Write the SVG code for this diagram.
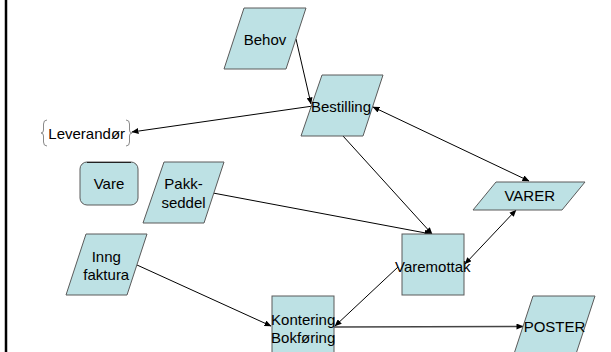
<svg xmlns="http://www.w3.org/2000/svg" width="611" height="352" viewBox="0 0 611 352">
  <style>
    .shape { fill: #BDE1E4; stroke: #5a5a5a; stroke-width: 1; }
    .lbl { font-family: "Liberation Sans", Arial, sans-serif; font-size: 15px; fill: #000; text-anchor: middle; }
    .conn { stroke: #000; stroke-width: 1; fill: none; }
    .brace { stroke: #8a8a8a; stroke-width: 1; fill: none; }
  </style>
  <defs>
    <marker id="ah" markerWidth="7" markerHeight="6" refX="6.5" refY="3" orient="auto-start-reverse" markerUnits="userSpaceOnUse">
      <path d="M0,0 L7,3 L0,6 Z" fill="#000"/>
    </marker>
  </defs>
  <rect width="611" height="352" fill="#fff"/>
  <line x1="6" y1="0" x2="6" y2="352" stroke="#000" stroke-width="2.5"/>

  <g id="connectors">
    <line class="conn" x1="296" y1="39" x2="311" y2="104" marker-end="url(#ah)"/>
    <line class="conn" x1="313" y1="106" x2="132" y2="132" marker-end="url(#ah)"/>
    <line class="conn" x1="373" y1="107" x2="529" y2="181" marker-start="url(#ah)" marker-end="url(#ah)"/>
    <line class="conn" x1="343" y1="136" x2="432" y2="234" marker-end="url(#ah)"/>
    <line class="conn" x1="213" y1="193" x2="431" y2="234" marker-end="url(#ah)"/>
    <line class="conn" x1="516" y1="210" x2="465" y2="264" marker-start="url(#ah)" marker-end="url(#ah)"/>
    <line class="conn" x1="398" y1="267" x2="335" y2="326" marker-end="url(#ah)"/>
    <line class="conn" x1="137" y1="265" x2="271" y2="326" marker-end="url(#ah)"/>
    <line x1="334" y1="327" x2="523" y2="326.5" stroke="#444" stroke-width="1.6" marker-end="url(#ah)"/>
  </g>

  <g id="behov">
    <polygon class="shape" points="244,8 306,8 286,69 224,69"/>
    <text class="lbl" x="265" y="44.5">Behov</text>
  </g>
  <g id="bestilling">
    <polygon class="shape" points="322,75 383,75 363,136 301,136"/>
    <text class="lbl" x="341" y="111.5">Bestilling</text>
  </g>
  <g id="leverandor">
    <path class="brace" d="M47,120 Q43.5,120 43.5,124 L43.5,130 Q43.5,133 41,133 Q43.5,133 43.5,136 L43.5,142 Q43.5,146 47,146"/>
    <path class="brace" d="M126,120 Q129.5,120 129.5,124 L129.5,130 Q129.5,133 132,133 Q129.5,133 129.5,136 L129.5,142 Q129.5,146 126,146"/>
    <text class="lbl" x="86.7" y="138.5">Leverandør</text>
  </g>
  <g id="vare">
    <rect class="shape" x="80" y="162" width="58" height="43" rx="7"/>
    <path d="M87,162.5 L131,162.5" stroke="#222" stroke-width="1.2"/>
    <text class="lbl" x="109" y="189">Vare</text>
  </g>
  <g id="pakkseddel">
    <polygon class="shape" points="164,162 224,162 204,223 143,223"/>
    <text class="lbl" x="183.5" y="188.5">Pakk-</text>
    <text class="lbl" x="183.5" y="207.5">seddel</text>
  </g>
  <g id="inngfaktura">
    <polygon class="shape" points="86,234 147,234 127,295 66,295"/>
    <text class="lbl" x="106.3" y="261.5">Inng</text>
    <text class="lbl" x="106.3" y="280">faktura</text>
  </g>
  <g id="varer">
    <polygon class="shape" points="496,182 585,182 562,210 473,210"/>
    <text class="lbl" x="529.7" y="200.5">VARER</text>
  </g>
  <g id="varemottak">
    <rect class="shape" x="402" y="234" width="62" height="61"/>
    <text class="lbl" x="432.8" y="271.5">Varemottak</text>
  </g>
  <g id="kontering">
    <rect class="shape" x="272" y="296" width="62" height="62"/>
    <text class="lbl" x="303.2" y="324.5">Kontering</text>
    <text class="lbl" x="303.2" y="342.7">Bokføring</text>
  </g>
  <g id="poster">
    <polygon class="shape" points="533,296 595,296 575,357 513,357"/>
    <text class="lbl" x="554.5" y="332">POSTER</text>
  </g>
</svg>
